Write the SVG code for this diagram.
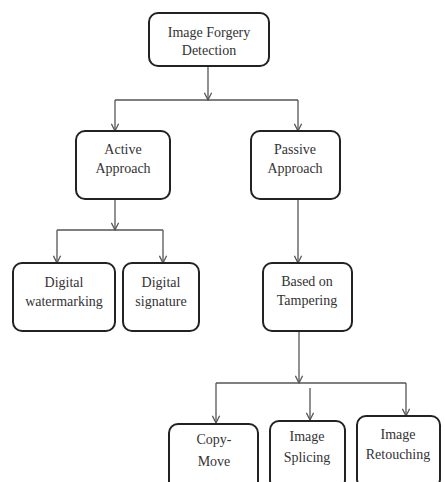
<svg xmlns="http://www.w3.org/2000/svg" width="445" height="482" viewBox="0 0 445 482">
<style>
.box{fill:#fff;stroke:#222;stroke-width:2}
.t{font-family:'Liberation Serif','DejaVu Serif',serif;font-size:14px;fill:#333;text-anchor:middle}
.c{fill:none;stroke:#555;stroke-width:1.3}
</style>
<defs>
<marker id="a" viewBox="0 0 10 10" refX="9" refY="5" markerWidth="9" markerHeight="9" markerUnits="userSpaceOnUse" orient="auto">
<path d="M1,1 L9,5 L1,9" fill="none" stroke="#555" stroke-width="1.4"/>
</marker>
</defs>
<rect width="445" height="482" fill="#fff"/>
<g id="connectors">
<path class="c" d="M208,66 V100" marker-end="url(#a)"/>
<path class="c" d="M115,100 H298"/>
<path class="c" d="M115,100 V131" marker-end="url(#a)"/>
<path class="c" d="M298,100 V131" marker-end="url(#a)"/>
<path class="c" d="M115,199 V230" marker-end="url(#a)"/>
<path class="c" d="M57,230 H163"/>
<path class="c" d="M57,230 V263" marker-end="url(#a)"/>
<path class="c" d="M163,230 V263" marker-end="url(#a)"/>
<path class="c" d="M298,199 V263" marker-end="url(#a)"/>
<path class="c" d="M299,331 V383" marker-end="url(#a)"/>
<path class="c" d="M216,383 H406"/>
<path class="c" d="M216,383 V423" marker-end="url(#a)"/>
<path class="c" d="M310,388 V420" marker-end="url(#a)"/>
<path class="c" d="M406,383 V416" marker-end="url(#a)"/>
</g>
<g id="n-root"><rect class="box" x="149" y="13" width="120" height="53" rx="9"/><text class="t" x="209" y="37">Image Forgery</text><text class="t" x="209" y="55">Detection</text></g>
<g id="n-active"><rect class="box" x="76" y="131" width="94" height="68" rx="9"/><text class="t" x="123" y="154">Active</text><text class="t" x="123" y="173">Approach</text></g>
<g id="n-passive"><rect class="box" x="251" y="131" width="89" height="68" rx="9"/><text class="t" x="295" y="154">Passive</text><text class="t" x="295" y="173">Approach</text></g>
<g id="n-watermark"><rect class="box" x="13" y="263" width="102" height="68" rx="9"/><text class="t" x="64" y="287">Digital</text><text class="t" x="64" y="306">watermarking</text></g>
<g id="n-signature"><rect class="box" x="123" y="263" width="76" height="68" rx="9"/><text class="t" x="161" y="287">Digital</text><text class="t" x="161" y="306">signature</text></g>
<g id="n-tamper"><rect class="box" x="263" y="263" width="89" height="68" rx="9"/><text class="t" x="307" y="286">Based on</text><text class="t" x="307" y="305">Tampering</text></g>
<g id="n-copymove"><rect class="box" x="169" y="424" width="89" height="68" rx="9"/><text class="t" x="214" y="444">Copy-</text><text class="t" x="214" y="466">Move</text></g>
<g id="n-splicing"><rect class="box" x="270" y="421" width="75" height="68" rx="9"/><text class="t" x="307" y="441">Image</text><text class="t" x="307" y="462">Splicing</text></g>
<g id="n-retouch"><rect class="box" x="357" y="416" width="83" height="72" rx="9"/><text class="t" x="398" y="439">Image</text><text class="t" x="398" y="459">Retouching</text></g>
</svg>
